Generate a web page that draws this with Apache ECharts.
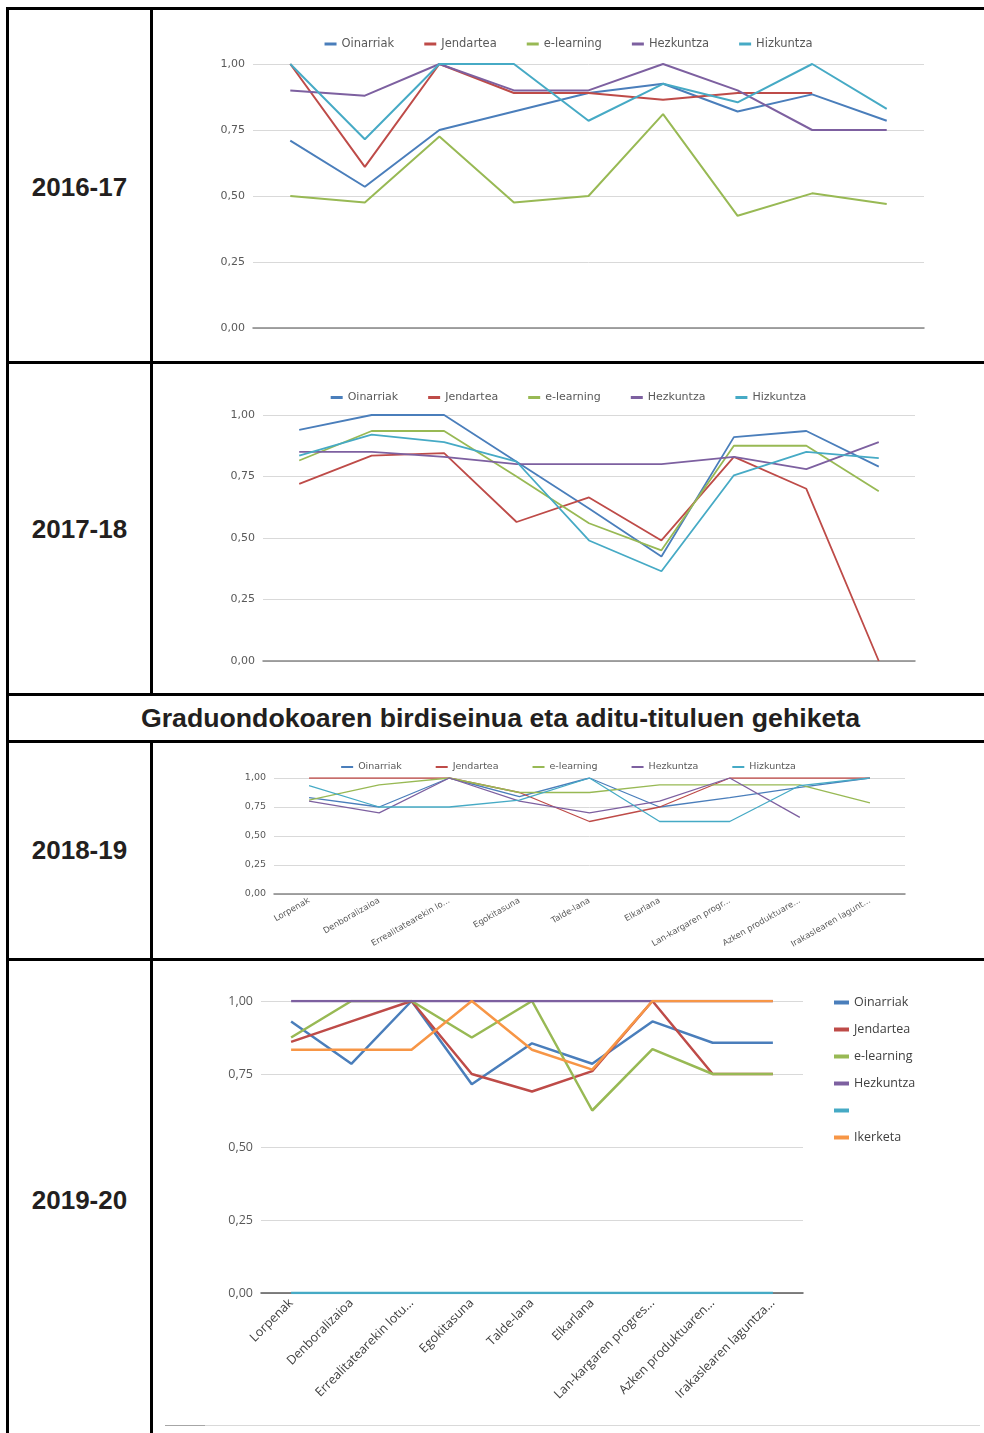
<!DOCTYPE html>
<html>
<head>
<meta charset="utf-8">
<script src="https://cdn.jsdelivr.net/npm/echarts@6/dist/echarts.min.js"></script>
<style>
  body { margin: 0; width: 984px; height: 1433px; overflow: hidden; position: relative; background: #fff; }
  .ln { position: absolute; background: #000; }
  .year { position: absolute; left: 9px; width: 141px; text-align: center; font: bold 26px "Liberation Sans", Arial, sans-serif; color: #231f20; line-height: 30px; }
  .head { position: absolute; left: 9px; width: 983px; text-align: center; font: bold 26.7px "Liberation Sans", Arial, sans-serif; color: #231f20; line-height: 30px; }
  .chart { position: absolute; left: 153px; width: 831px; }
</style>
</head>
<body>
<!-- table borders -->
<div class="ln" style="left:6px;top:7px;width:3px;height:1426px"></div>
<div class="ln" style="left:6px;top:7px;width:986px;height:3px"></div>
<div class="ln" style="left:150px;top:7px;width:3px;height:688px"></div>
<div class="ln" style="left:150px;top:740px;width:3px;height:693px"></div>
<div class="ln" style="left:6px;top:361px;width:986px;height:3px"></div>
<div class="ln" style="left:6px;top:693px;width:986px;height:3px"></div>
<div class="ln" style="left:6px;top:740px;width:986px;height:3px"></div>
<div class="ln" style="left:6px;top:958px;width:986px;height:3px"></div>
<div style="position:absolute;left:165px;top:1425px;width:40px;height:1px;background:#a6a6a6"></div>
<div style="position:absolute;left:205px;top:1425px;width:775px;height:1px;background:#d9d9d9"></div>

<div class="year" style="top:172px">2016-17</div>
<div class="year" style="top:514px">2017-18</div>
<div class="head" style="top:703px">Graduondokoaren birdiseinua eta aditu-tituluen gehiketa</div>
<div class="year" style="top:835px">2018-19</div>
<div class="year" style="top:1185px">2019-20</div>

<div id="chart1" class="chart" style="top:10px;height:351px"></div>
<div id="chart2" class="chart" style="top:364px;height:329px"></div>
<div id="chart3" class="chart" style="top:751px;height:207px"></div>
<div id="chart4" class="chart" style="top:961px;height:472px"></div>

<script>
/* data */
var categories = ['Lorpenak', 'Denboralizaioa', 'Errealitatearekin lotura', 'Egokitasuna', 'Talde-lana',
    'Elkarlana', 'Lan-kargaren progresioa', 'Azken produktuaren', 'Irakaslearen laguntza'];
var labels1819 = ['Lorpenak', 'Denboralizaioa', 'Errealitatearekin lo...', 'Egokitasuna', 'Talde-lana',
    'Elkarlana', 'Lan-kargaren progr...', 'Azken produktuare...', 'Irakaslearen lagunt...'];
var labels1920 = ['Lorpenak', 'Denboralizaioa', 'Errealitatearekin lotu...', 'Egokitasuna', 'Talde-lana',
    'Elkarlana', 'Lan-kargaren progres...', 'Azken produktuaren...', 'Irakaslearen laguntza...'];
var names = ['Oinarriak', 'Jendartea', 'e-learning', 'Hezkuntza', 'Hizkuntza'];
var names1920 = ['Oinarriak', 'Jendartea', 'e-learning', 'Hezkuntza', ' ', 'Ikerketa'];
var colors = ['#4a7ebb', '#be4b48', '#98b954', '#7d60a0', '#46aac5', '#f79646'];
var yTicks = [0, 0.25, 0.5, 0.75, 1];

// 2016-17
var oinarriak1617 = [0.71, 0.535, 0.75, 0.82, 0.89, 0.925, 0.82, 0.885, 0.785];
var jendartea1617 = [1, 0.61, 1, 0.89, 0.89, 0.865, 0.89, 0.89, null];
var elearning1617 = [0.5, 0.475, 0.725, 0.475, 0.5, 0.81, 0.425, 0.51, 0.47];
var hezkuntza1617 = [0.9, 0.88, 1, 0.9, 0.9, 1, 0.9, 0.75, 0.75];
var hizkuntza1617 = [1, 0.715, 1, 1, 0.785, 0.925, 0.855, 1, 0.83];

// 2017-18
var oinarriak1718 = [0.94, 1, 1, 0.81, 0.62, 0.425, 0.91, 0.935, 0.79];
var jendartea1718 = [0.72, 0.835, 0.845, 0.565, 0.665, 0.49, 0.83, 0.7, 0];
var elearning1718 = [0.815, 0.935, 0.935, 0.75, 0.56, 0.45, 0.875, 0.875, 0.69];
var hezkuntza1718 = [0.85, 0.85, 0.83, 0.8, 0.8, 0.8, 0.83, 0.78, 0.89];
var hizkuntza1718 = [0.835, 0.92, 0.89, 0.81, 0.49, 0.365, 0.755, 0.85, 0.825];

// 2018-19
var oinarriak1819 = [0.83, 0.75, 1, 0.84, 1, 0.75, 0.83, 0.92, 1];
var jendartea1819 = [1, 1, 1, 0.875, 0.625, 0.75, 1, 1, 1];
var elearning1819 = [0.81, 0.94, 1, 0.875, 0.875, 0.94, 0.94, 0.94, 0.785];
var hezkuntza1819 = [0.8, 0.7, 1, 0.8, 0.7, 0.8, 1, 0.66, null];
var hizkuntza1819 = [0.935, 0.75, 0.75, 0.81, 1, 0.625, 0.625, 0.935, 1];

// 2019-20
var oinarriak1920 = [0.93, 0.785, 1, 0.715, 0.855, 0.785, 0.93, 0.857, 0.857];
var jendartea1920 = [0.86, 0.93, 1, 0.75, 0.69, 0.76, 1, 0.75, 0.75];
var elearning1920 = [0.875, 1, 1, 0.875, 1, 0.625, 0.835, 0.75, 0.75];
var hezkuntza1920 = [1, 1, 1, 1, 1, 1, 1, 1, 1];
var hutsa1920 = [0, 0, 0, 0, 0, 0, 0, 0, 0];
var ikerketa1920 = [0.833, 0.833, 0.833, 1, 0.833, 0.765, 1, 1, 1];

function fmt(v) {
    return v.toFixed(2).replace('.', ',');
}

function makeSeries(seriesNames, values, width) {
    return seriesNames.map(function (n, i) {
        return {
            name: n,
            type: 'line',
            data: values[i],
            symbol: 'none',
            connectNulls: false,
            lineStyle: { width: width, color: colors[i] },
            itemStyle: { color: colors[i] },
            emphasis: { disabled: true }
        };
    });
}

function buildOption(cfg) {
    return {
        animation: false,
        color: colors,
        grid: cfg.grid,
        legend: cfg.legend,
        xAxis: {
            type: 'category',
            data: cfg.labels || categories,
            boundaryGap: true,
            axisTick: { show: false },
            axisLine: { show: true, lineStyle: { color: cfg.axisColor || '#868686', width: cfg.axisWidth || 1.5 } },
            axisLabel: cfg.xLabel || { show: false },
            splitLine: { show: false }
        },
        yAxis: {
            type: 'value',
            min: yTicks[0],
            max: yTicks[yTicks.length - 1],
            interval: 0.25,
            axisLine: { show: false },
            axisTick: { show: false },
            axisLabel: {
                formatter: fmt,
                margin: 8,
                color: '#595959',
                fontFamily: cfg.font,
                fontSize: cfg.yFont
            },
            splitLine: { lineStyle: { color: '#d9d9d9', width: 1 } }
        },
        series: cfg.series
    };
}

/********** 2016-17 **********/
var chart1 = echarts.init(document.getElementById('chart1'));
chart1.setOption(buildOption({
    grid: { left: 100, right: 60, top: 54, bottom: 33 },
    legend: {
        data: names, top: 23, left: 'center', itemGap: 30,
        icon: 'rect', itemWidth: 12, itemHeight: 3,
        textStyle: { fontFamily: 'DejaVu Sans', fontSize: 11.5, color: '#595959' }
    },
    font: 'DejaVu Sans', yFont: 11,
    series: makeSeries(names, [oinarriak1617, jendartea1617, elearning1617, hezkuntza1617, hizkuntza1617], 2)
}));

/********** 2017-18 **********/
var chart2 = echarts.init(document.getElementById('chart2'));
chart2.setOption(buildOption({
    grid: { left: 110, right: 69, top: 51, bottom: 32 },
    legend: {
        data: names, top: 23, left: 'center', itemGap: 30,
        icon: 'rect', itemWidth: 12, itemHeight: 3,
        textStyle: { fontFamily: 'DejaVu Sans', fontSize: 11, color: '#595959' }
    },
    font: 'DejaVu Sans', yFont: 11,
    series: makeSeries(names, [oinarriak1718, jendartea1718, elearning1718, hezkuntza1718, hizkuntza1718], 1.8)
}));

/********** 2018-19 **********/
var chart3 = echarts.init(document.getElementById('chart3'));
chart3.setOption(buildOption({
    grid: { left: 121, right: 79, top: 27, bottom: 64 },
    legend: {
        data: names, top: 6, left: 'center', itemGap: 34,
        icon: 'rect', itemWidth: 12, itemHeight: 2,
        textStyle: { fontFamily: 'DejaVu Sans', fontSize: 9.5, color: '#595959' }
    },
    labels: labels1819,
    xLabel: { show: true, interval: 0, rotate: 30, margin: 6, color: '#595959', fontFamily: 'DejaVu Sans', fontSize: 8.5 },
    font: 'DejaVu Sans', yFont: 9.5,
    series: makeSeries(names, [oinarriak1819, jendartea1819, elearning1819, hezkuntza1819, hizkuntza1819], 1.3)
}));

/********** 2019-20 **********/
var chart4 = echarts.init(document.getElementById('chart4'));
chart4.setOption(buildOption({
    grid: { left: 108, right: 181, top: 40, bottom: 140 },
    legend: {
        data: names1920, orient: 'vertical', left: 676, top: 29, itemGap: 12,
        icon: 'rect', itemWidth: 15, itemHeight: 4,
        textStyle: { fontFamily: 'Open Sans', fontSize: 12.5, color: '#404040', lineHeight: 15 }
    },
    labels: labels1920,
    axisColor: '#595959', axisWidth: 1.5,
    xLabel: { show: true, interval: 0, rotate: 45, margin: 8, color: '#404040', fontFamily: 'Open Sans', fontSize: 12.5 },
    font: 'Open Sans', yFont: 12.5,
    series: makeSeries(names1920, [oinarriak1920, jendartea1920, elearning1920, hezkuntza1920, hutsa1920, ikerketa1920], 2.5)
}));
</script>
</body>
</html>
